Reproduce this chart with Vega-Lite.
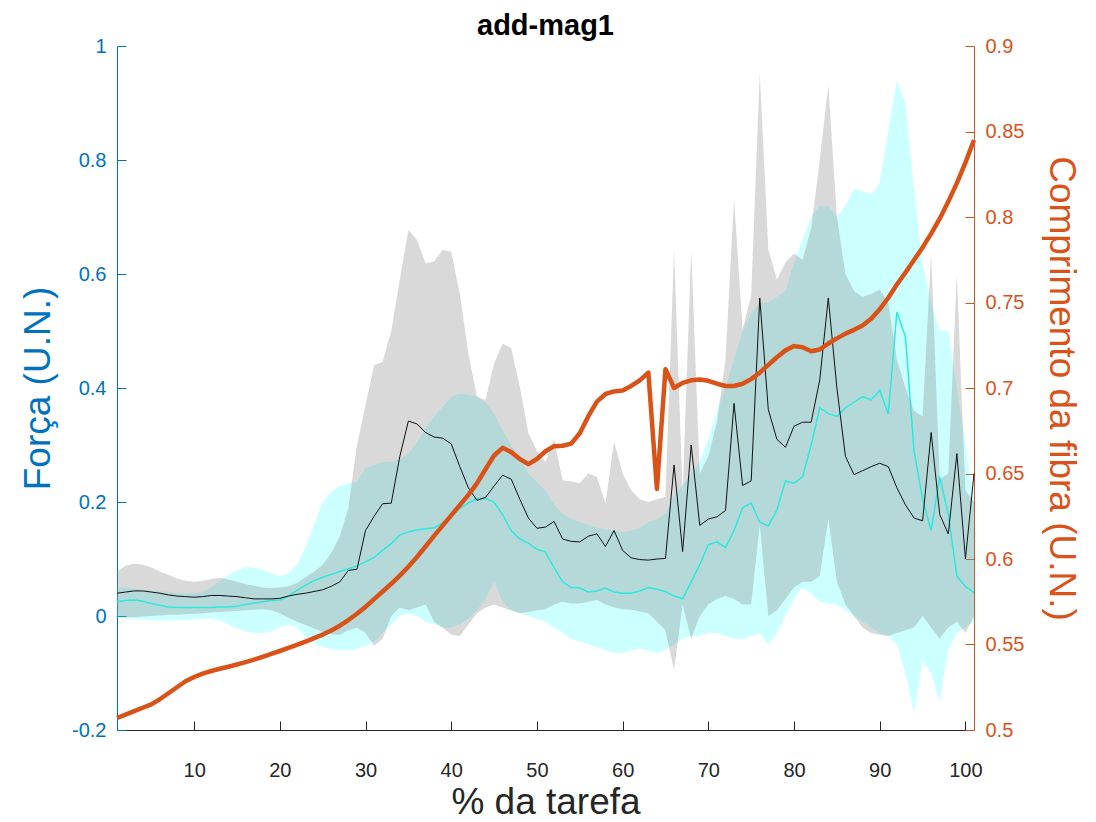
{
  "$schema": "https://vega.github.io/schema/vega-lite/v6.json",
  "autosize": {"type": "none"},
  "width": 857,
  "height": 684,
  "padding": {"left": 117, "top": 46, "right": 122, "bottom": 92},
  "background": "white",
  "title": {"text": "add-mag1", "fontSize": 29, "fontWeight": "bold", "font": "Liberation Sans", "color": "#000000", "anchor": "middle", "offset": -5},
  "config": {
    "view": {"stroke": null},
    "axis": {"labelFont": "Liberation Sans", "titleFont": "Liberation Sans", "grid": false, "titleFontWeight": "normal"}
  },
  "data": {"values": [
    {"x":1,"gl":0.000,"gu":0.078,"cl":-0.003,"cu":0.050,"bm":0.040,"cm":0.025,"fib":0.507},
    {"x":2,"gl":-0.002,"gu":0.088,"cl":-0.004,"cu":0.050,"bm":0.042,"cm":0.027,"fib":0.509},
    {"x":3,"gl":-0.002,"gu":0.092,"cl":-0.005,"cu":0.048,"bm":0.044,"cm":0.028,"fib":0.511},
    {"x":4,"gl":-0.001,"gu":0.090,"cl":-0.006,"cu":0.046,"bm":0.044,"cm":0.026,"fib":0.513},
    {"x":5,"gl":0.000,"gu":0.085,"cl":-0.007,"cu":0.045,"bm":0.042,"cm":0.022,"fib":0.515},
    {"x":6,"gl":0.001,"gu":0.078,"cl":-0.008,"cu":0.043,"bm":0.040,"cm":0.019,"fib":0.518},
    {"x":7,"gl":0.002,"gu":0.072,"cl":-0.008,"cu":0.042,"bm":0.037,"cm":0.016,"fib":0.5215},
    {"x":8,"gl":0.002,"gu":0.066,"cl":-0.007,"cu":0.040,"bm":0.035,"cm":0.015,"fib":0.525},
    {"x":9,"gl":0.003,"gu":0.062,"cl":-0.007,"cu":0.040,"bm":0.034,"cm":0.015,"fib":0.5285},
    {"x":10,"gl":0.004,"gu":0.060,"cl":-0.006,"cu":0.040,"bm":0.033,"cm":0.015,"fib":0.531},
    {"x":11,"gl":0.005,"gu":0.062,"cl":-0.005,"cu":0.042,"bm":0.034,"cm":0.015,"fib":0.533},
    {"x":12,"gl":0.006,"gu":0.065,"cl":-0.004,"cu":0.050,"bm":0.036,"cm":0.015,"fib":0.5345},
    {"x":13,"gl":0.007,"gu":0.067,"cl":-0.008,"cu":0.062,"bm":0.036,"cm":0.016,"fib":0.5358},
    {"x":14,"gl":0.008,"gu":0.064,"cl":-0.015,"cu":0.072,"bm":0.035,"cm":0.016,"fib":0.537},
    {"x":15,"gl":0.009,"gu":0.060,"cl":-0.022,"cu":0.080,"bm":0.034,"cm":0.017,"fib":0.5383},
    {"x":16,"gl":0.010,"gu":0.056,"cl":-0.027,"cu":0.086,"bm":0.032,"cm":0.020,"fib":0.5397},
    {"x":17,"gl":0.011,"gu":0.053,"cl":-0.030,"cu":0.085,"bm":0.030,"cm":0.023,"fib":0.5412},
    {"x":18,"gl":0.012,"gu":0.050,"cl":-0.030,"cu":0.081,"bm":0.030,"cm":0.025,"fib":0.5428},
    {"x":19,"gl":0.010,"gu":0.049,"cl":-0.028,"cu":0.075,"bm":0.030,"cm":0.027,"fib":0.5445},
    {"x":20,"gl":0.005,"gu":0.050,"cl":-0.020,"cu":0.070,"bm":0.031,"cm":0.028,"fib":0.5462},
    {"x":21,"gl":-0.003,"gu":0.052,"cl":-0.015,"cu":0.075,"bm":0.035,"cm":0.035,"fib":0.548},
    {"x":22,"gl":-0.010,"gu":0.058,"cl":-0.020,"cu":0.090,"bm":0.038,"cm":0.045,"fib":0.5498},
    {"x":23,"gl":-0.016,"gu":0.068,"cl":-0.035,"cu":0.120,"bm":0.040,"cm":0.054,"fib":0.5517},
    {"x":24,"gl":-0.022,"gu":0.078,"cl":-0.048,"cu":0.160,"bm":0.043,"cm":0.062,"fib":0.5537},
    {"x":25,"gl":-0.028,"gu":0.090,"cl":-0.055,"cu":0.200,"bm":0.046,"cm":0.068,"fib":0.5558},
    {"x":26,"gl":-0.032,"gu":0.110,"cl":-0.058,"cu":0.218,"bm":0.052,"cm":0.073,"fib":0.5582},
    {"x":27,"gl":-0.033,"gu":0.140,"cl":-0.060,"cu":0.228,"bm":0.060,"cm":0.078,"fib":0.561},
    {"x":28,"gl":-0.025,"gu":0.190,"cl":-0.060,"cu":0.233,"bm":0.080,"cm":0.083,"fib":0.5643},
    {"x":29,"gl":-0.020,"gu":0.300,"cl":-0.058,"cu":0.235,"bm":0.082,"cm":0.088,"fib":0.568},
    {"x":30,"gl":-0.030,"gu":0.370,"cl":-0.052,"cu":0.260,"bm":0.150,"cm":0.095,"fib":0.572},
    {"x":31,"gl":-0.052,"gu":0.440,"cl":-0.045,"cu":0.265,"bm":0.175,"cm":0.103,"fib":0.5765},
    {"x":32,"gl":-0.040,"gu":0.446,"cl":-0.030,"cu":0.270,"bm":0.197,"cm":0.115,"fib":0.581},
    {"x":33,"gl":0.000,"gu":0.500,"cl":-0.015,"cu":0.270,"bm":0.198,"cm":0.127,"fib":0.5855},
    {"x":34,"gl":0.015,"gu":0.590,"cl":0.000,"cu":0.275,"bm":0.280,"cm":0.142,"fib":0.5903},
    {"x":35,"gl":0.010,"gu":0.677,"cl":0.005,"cu":0.285,"bm":0.342,"cm":0.148,"fib":0.5955},
    {"x":36,"gl":0.015,"gu":0.660,"cl":0.000,"cu":0.305,"bm":0.337,"cm":0.151,"fib":0.6012},
    {"x":37,"gl":0.020,"gu":0.619,"cl":-0.010,"cu":0.330,"bm":0.322,"cm":0.153,"fib":0.6073},
    {"x":38,"gl":-0.010,"gu":0.622,"cl":-0.015,"cu":0.350,"bm":0.314,"cm":0.155,"fib":0.6135},
    {"x":39,"gl":-0.020,"gu":0.642,"cl":-0.020,"cu":0.367,"bm":0.312,"cm":0.163,"fib":0.6195},
    {"x":40,"gl":-0.033,"gu":0.639,"cl":-0.020,"cu":0.385,"bm":0.302,"cm":0.176,"fib":0.6255},
    {"x":41,"gl":-0.035,"gu":0.566,"cl":-0.015,"cu":0.390,"bm":0.262,"cm":0.189,"fib":0.6315},
    {"x":42,"gl":-0.015,"gu":0.460,"cl":-0.005,"cu":0.388,"bm":0.225,"cm":0.198,"fib":0.6375},
    {"x":43,"gl":0.005,"gu":0.385,"cl":0.010,"cu":0.385,"bm":0.203,"cm":0.206,"fib":0.6442},
    {"x":44,"gl":0.015,"gu":0.379,"cl":0.030,"cu":0.375,"bm":0.208,"cm":0.206,"fib":0.6525},
    {"x":45,"gl":0.020,"gu":0.443,"cl":0.060,"cu":0.355,"bm":0.228,"cm":0.200,"fib":0.6605},
    {"x":46,"gl":0.015,"gu":0.478,"cl":0.025,"cu":0.326,"bm":0.247,"cm":0.178,"fib":0.665},
    {"x":47,"gl":0.010,"gu":0.470,"cl":0.010,"cu":0.300,"bm":0.240,"cm":0.150,"fib":0.6625},
    {"x":48,"gl":0.005,"gu":0.402,"cl":0.005,"cu":0.275,"bm":0.205,"cm":0.135,"fib":0.6585},
    {"x":49,"gl":0.007,"gu":0.321,"cl":0.000,"cu":0.250,"bm":0.172,"cm":0.128,"fib":0.6555},
    {"x":50,"gl":0.010,"gu":0.290,"cl":-0.005,"cu":0.235,"bm":0.154,"cm":0.117,"fib":0.6585},
    {"x":51,"gl":0.012,"gu":0.270,"cl":-0.010,"cu":0.220,"bm":0.156,"cm":0.112,"fib":0.663},
    {"x":52,"gl":0.020,"gu":0.310,"cl":-0.020,"cu":0.195,"bm":0.166,"cm":0.085,"fib":0.666},
    {"x":53,"gl":0.025,"gu":0.238,"cl":-0.030,"cu":0.180,"bm":0.135,"cm":0.060,"fib":0.6662},
    {"x":54,"gl":0.022,"gu":0.236,"cl":-0.040,"cu":0.170,"bm":0.131,"cm":0.050,"fib":0.6675},
    {"x":55,"gl":0.022,"gu":0.233,"cl":-0.045,"cu":0.165,"bm":0.130,"cm":0.049,"fib":0.6735},
    {"x":56,"gl":0.025,"gu":0.250,"cl":-0.050,"cu":0.160,"bm":0.140,"cm":0.042,"fib":0.6835},
    {"x":57,"gl":0.028,"gu":0.244,"cl":-0.055,"cu":0.155,"bm":0.144,"cm":0.044,"fib":0.692},
    {"x":58,"gl":0.020,"gu":0.198,"cl":-0.060,"cu":0.152,"bm":0.122,"cm":0.049,"fib":0.6965},
    {"x":59,"gl":0.015,"gu":0.306,"cl":-0.065,"cu":0.150,"bm":0.150,"cm":0.042,"fib":0.698},
    {"x":60,"gl":0.012,"gu":0.250,"cl":-0.065,"cu":0.147,"bm":0.115,"cm":0.040,"fib":0.6985},
    {"x":61,"gl":0.011,"gu":0.220,"cl":-0.060,"cu":0.150,"bm":0.102,"cm":0.040,"fib":0.7012},
    {"x":62,"gl":0.008,"gu":0.205,"cl":-0.058,"cu":0.155,"bm":0.099,"cm":0.044,"fib":0.7045},
    {"x":63,"gl":0.005,"gu":0.200,"cl":-0.060,"cu":0.165,"bm":0.098,"cm":0.050,"fib":0.709},
    {"x":64,"gl":-0.010,"gu":0.205,"cl":-0.065,"cu":0.170,"bm":0.100,"cm":0.047,"fib":0.641},
    {"x":65,"gl":-0.025,"gu":0.209,"cl":-0.060,"cu":0.180,"bm":0.101,"cm":0.043,"fib":0.711},
    {"x":66,"gl":-0.095,"gu":0.642,"cl":-0.050,"cu":0.210,"bm":0.265,"cm":0.035,"fib":0.700},
    {"x":67,"gl":0.020,"gu":0.215,"cl":-0.040,"cu":0.230,"bm":0.113,"cm":0.030,"fib":0.703},
    {"x":68,"gl":-0.040,"gu":0.642,"cl":-0.035,"cu":0.250,"bm":0.300,"cm":0.060,"fib":0.7045},
    {"x":69,"gl":0.000,"gu":0.250,"cl":-0.035,"cu":0.270,"bm":0.159,"cm":0.090,"fib":0.705},
    {"x":70,"gl":0.020,"gu":0.280,"cl":-0.030,"cu":0.310,"bm":0.170,"cm":0.125,"fib":0.7042},
    {"x":71,"gl":0.030,"gu":0.340,"cl":-0.030,"cu":0.360,"bm":0.174,"cm":0.130,"fib":0.7025},
    {"x":72,"gl":0.035,"gu":0.450,"cl":-0.035,"cu":0.400,"bm":0.185,"cm":0.120,"fib":0.7012},
    {"x":73,"gl":0.030,"gu":0.732,"cl":-0.040,"cu":0.450,"bm":0.373,"cm":0.150,"fib":0.7012},
    {"x":74,"gl":0.020,"gu":0.503,"cl":-0.040,"cu":0.500,"bm":0.229,"cm":0.190,"fib":0.7025},
    {"x":75,"gl":0.020,"gu":0.562,"cl":-0.035,"cu":0.530,"bm":0.237,"cm":0.198,"fib":0.7052},
    {"x":76,"gl":0.160,"gu":0.953,"cl":-0.030,"cu":0.550,"bm":0.558,"cm":0.165,"fib":0.709},
    {"x":77,"gl":0.000,"gu":0.643,"cl":-0.050,"cu":0.550,"bm":0.362,"cm":0.158,"fib":0.7135},
    {"x":78,"gl":0.010,"gu":0.590,"cl":-0.030,"cu":0.560,"bm":0.310,"cm":0.186,"fib":0.718},
    {"x":79,"gl":0.030,"gu":0.620,"cl":0.000,"cu":0.570,"bm":0.296,"cm":0.237,"fib":0.722},
    {"x":80,"gl":0.050,"gu":0.636,"cl":0.030,"cu":0.620,"bm":0.333,"cm":0.233,"fib":0.7245},
    {"x":81,"gl":0.060,"gu":0.625,"cl":0.050,"cu":0.660,"bm":0.340,"cm":0.244,"fib":0.7238},
    {"x":82,"gl":0.060,"gu":0.680,"cl":0.040,"cu":0.700,"bm":0.340,"cm":0.300,"fib":0.7215},
    {"x":83,"gl":0.070,"gu":0.800,"cl":0.025,"cu":0.720,"bm":0.414,"cm":0.365,"fib":0.7225},
    {"x":84,"gl":0.170,"gu":0.931,"cl":0.022,"cu":0.720,"bm":0.558,"cm":0.355,"fib":0.726},
    {"x":85,"gl":0.060,"gu":0.700,"cl":0.020,"cu":0.700,"bm":0.400,"cm":0.350,"fib":0.729},
    {"x":86,"gl":0.020,"gu":0.600,"cl":0.010,"cu":0.720,"bm":0.280,"cm":0.365,"fib":0.7318},
    {"x":87,"gl":0.000,"gu":0.570,"cl":0.000,"cu":0.750,"bm":0.248,"cm":0.375,"fib":0.734},
    {"x":88,"gl":-0.020,"gu":0.560,"cl":-0.010,"cu":0.745,"bm":0.255,"cm":0.385,"fib":0.7365},
    {"x":89,"gl":-0.030,"gu":0.565,"cl":-0.020,"cu":0.740,"bm":0.262,"cm":0.379,"fib":0.7405},
    {"x":90,"gl":-0.033,"gu":0.573,"cl":-0.030,"cu":0.760,"bm":0.268,"cm":0.396,"fib":0.746},
    {"x":91,"gl":-0.035,"gu":0.550,"cl":-0.035,"cu":0.850,"bm":0.262,"cm":0.355,"fib":0.7528},
    {"x":92,"gl":-0.030,"gu":0.450,"cl":-0.050,"cu":0.940,"bm":0.225,"cm":0.533,"fib":0.7605},
    {"x":93,"gl":-0.025,"gu":0.400,"cl":-0.100,"cu":0.900,"bm":0.195,"cm":0.490,"fib":0.7675},
    {"x":94,"gl":-0.020,"gu":0.360,"cl":-0.170,"cu":0.750,"bm":0.172,"cm":0.290,"fib":0.7748},
    {"x":95,"gl":0.000,"gu":0.350,"cl":-0.080,"cu":0.620,"bm":0.167,"cm":0.205,"fib":0.7822},
    {"x":96,"gl":-0.020,"gu":0.636,"cl":-0.100,"cu":0.550,"bm":0.322,"cm":0.150,"fib":0.7903},
    {"x":97,"gl":-0.040,"gu":0.240,"cl":-0.150,"cu":0.500,"bm":0.178,"cm":0.244,"fib":0.799},
    {"x":98,"gl":-0.020,"gu":0.250,"cl":-0.060,"cu":0.500,"bm":0.144,"cm":0.178,"fib":0.809},
    {"x":99,"gl":-0.010,"gu":0.600,"cl":-0.030,"cu":0.400,"bm":0.285,"cm":0.070,"fib":0.8198},
    {"x":100,"gl":-0.030,"gu":0.220,"cl":-0.020,"cu":0.300,"bm":0.100,"cm":0.052,"fib":0.8318},
    {"x":101,"gl":0.000,"gu":0.200,"cl":-0.010,"cu":0.200,"bm":0.250,"cm":0.041,"fib":0.845}
  ]},
  "encoding": {
    "x": {
      "field": "x", "type": "quantitative",
      "scale": {"domain": [1, 101], "nice": false, "zero": false},
      "axis": {
        "values": [10, 20, 30, 40, 50, 60, 70, 80, 90, 100],
        "title": "% da tarefa", "titleFontSize": 37, "titleColor": "#262626", "titlePadding": 4,
        "labelFontSize": 20, "labelColor": "#262626", "labelPadding": 39,
        "domainColor": "#262626", "tickColor": "#262626", "tickSize": -9, "domainWidth": 1
      }
    }
  },
  "layer": [
    {
      "layer": [
        {
          "mark": {"type": "area", "color": "#00ffff", "opacity": 0.2},
          "encoding": {
            "y": {
              "field": "cl", "type": "quantitative",
              "scale": {"domain": [-0.2, 1], "nice": false, "zero": false},
              "axis": {
                "values": [-0.2, 0, 0.2, 0.4, 0.6, 0.8, 1],
                "labelExpr": "datum.value < 0 ? '-' + format(-datum.value, '~g') : format(datum.value, '~g')",
                "title": "Força (U.N.)", "titleFontSize": 37, "titleColor": "#0072BD", "titlePadding": 14,
                "labelFontSize": 20, "labelColor": "#0072BD", "labelPadding": 20,
                "domainColor": "#0072BD", "tickColor": "#0072BD", "tickSize": -9
              }
            },
            "y2": {"field": "cu"}
          }
        },
        {
          "mark": {"type": "area", "color": "#808080", "opacity": 0.3},
          "encoding": {
            "y": {"field": "gl", "type": "quantitative"},
            "y2": {"field": "gu"}
          }
        },
        {
          "mark": {"type": "line", "color": "#2ee8e0", "strokeWidth": 1.5},
          "encoding": {"y": {"field": "cm", "type": "quantitative"}}
        },
        {
          "mark": {"type": "line", "color": "#111111", "strokeWidth": 1},
          "encoding": {"y": {"field": "bm", "type": "quantitative"}}
        }
      ]
    },
    {
      "mark": {"type": "line", "color": "#D95319", "strokeWidth": 4.5, "strokeJoin": "round"},
      "encoding": {
        "y": {
          "field": "fib", "type": "quantitative",
          "scale": {"domain": [0.5, 0.9], "nice": false, "zero": false},
          "axis": {
            "orient": "right",
            "values": [0.5, 0.55, 0.6, 0.65, 0.7, 0.75, 0.8, 0.85, 0.9],
            "labelExpr": "format(datum.value, '~g')",
            "title": "Comprimento da fibra (U.N.)", "titleFontSize": 37, "titleColor": "#D95319", "titlePadding": 18,
            "labelFontSize": 20, "labelColor": "#D95319", "labelPadding": 20,
            "domainColor": "#D95319", "tickColor": "#D95319", "tickSize": -9
          }
        }
      }
    }
  ],
  "resolve": {"scale": {"y": "independent"}}
}
